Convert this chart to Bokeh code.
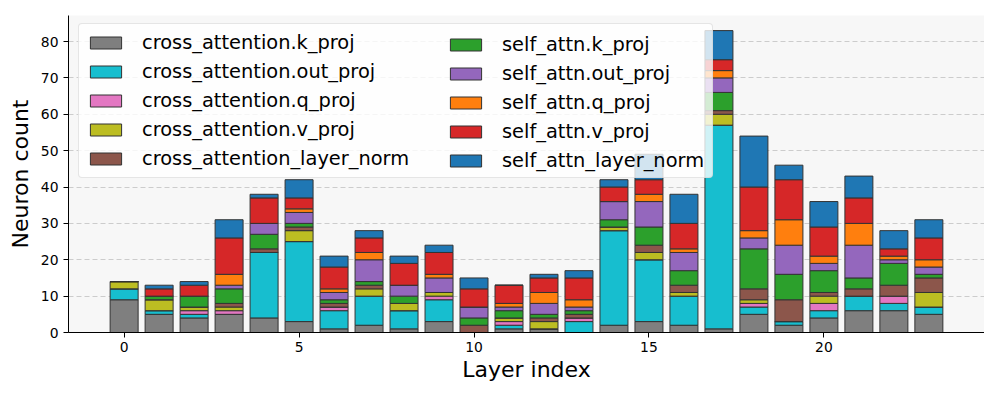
from bokeh.plotting import figure
from bokeh.models import ColumnDataSource, Range1d, Legend, LegendItem, SingleIntervalTicker
from bokeh.embed import file_html
from bokeh.resources import INLINE

layers = list(range(24))
cross_attention_k_proj = [9, 5, 4, 5, 4, 3, 1, 2, 1, 3, 0, 1, 1, 0, 2, 3, 2, 1, 5, 2, 4, 6, 6, 5]
cross_attention_out_proj = [3, 1, 1, 0, 18, 22, 5, 8, 5, 6, 0, 1, 0, 3, 26, 17, 8, 56, 2, 1, 2, 4, 2, 2]
cross_attention_q_proj = [0, 0, 1, 1, 0, 0, 1, 0, 0, 1, 0, 1, 0, 1, 0, 0, 0, 0, 1, 0, 2, 0, 2, 0]
cross_attention_v_proj = [2, 3, 1, 1, 0, 3, 0, 2, 2, 1, 0, 1, 2, 0, 1, 2, 1, 3, 1, 0, 2, 0, 0, 4]
cross_attention_layer_norm = [0, 0, 0, 1, 1, 1, 1, 1, 0, 0, 2, 0, 1, 1, 0, 2, 2, 1, 3, 6, 1, 2, 3, 4]
self_attn_k_proj = [0, 1, 3, 4, 4, 1, 1, 1, 2, 0, 2, 2, 1, 1, 2, 5, 4, 5, 11, 7, 6, 3, 6, 1]
self_attn_out_proj = [0, 0, 0, 1, 3, 3, 2, 6, 3, 4, 3, 1, 3, 1, 5, 7, 5, 4, 3, 8, 2, 9, 1, 2]
self_attn_q_proj = [0, 0, 0, 3, 0, 1, 1, 2, 0, 1, 0, 1, 3, 2, 0, 2, 1, 2, 2, 7, 2, 6, 1, 2]
self_attn_v_proj = [0, 2, 3, 10, 7, 3, 6, 4, 6, 6, 5, 5, 4, 6, 4, 4, 7, 3, 12, 11, 8, 7, 2, 6]
self_attn_layer_norm = [0, 1, 1, 5, 1, 5, 3, 2, 2, 2, 3, 0, 1, 2, 2, 7, 8, 8, 14, 4, 7, 6, 5, 5]

series_names = [
    "cross_attention.k_proj", "cross_attention.out_proj", "cross_attention.q_proj",
    "cross_attention.v_proj", "cross_attention_layer_norm",
    "self_attn.k_proj", "self_attn.out_proj", "self_attn.q_proj",
    "self_attn.v_proj", "self_attn_layer_norm",
]
series_values = [
    cross_attention_k_proj, cross_attention_out_proj, cross_attention_q_proj,
    cross_attention_v_proj, cross_attention_layer_norm,
    self_attn_k_proj, self_attn_out_proj, self_attn_q_proj,
    self_attn_v_proj, self_attn_layer_norm,
]
colors = ["#7f7f7f", "#17becf", "#e377c2", "#bcbd22", "#8c564b",
          "#2ca02c", "#9467bd", "#ff7f0e", "#d62728", "#1f77b4"]

keys = [f"s{i}" for i in range(len(series_names))]
data = {"layer": layers}
for k, v in zip(keys, series_values):
    data[k] = v
source = ColumnDataSource(data)

totals = [sum(col) for col in zip(*series_values)]
ymax = max(totals) * 1.05
bar_w = 0.8
xpad = (len(layers) - 1 + bar_w) * 0.05

FONT = "DejaVu Sans"
W, H = 984, 384
B_LEFT, B_RIGHT, B_TOP, B_BOTTOM = 68, 0, 15, 52

p = figure(width=W, height=H, output_backend="svg", toolbar_location=None,
           x_range=Range1d(-bar_w / 2 - xpad, len(layers) - 1 + bar_w / 2 + xpad),
           y_range=Range1d(0, ymax),
           min_border_left=B_LEFT, min_border_right=B_RIGHT,
           min_border_top=B_TOP, min_border_bottom=B_BOTTOM,
           background_fill_color="#f7f7f7", border_fill_color="white")
p.outline_line_color = None

renderers = p.vbar_stack(keys, x="layer", width=bar_w, source=source,
                         fill_color=colors, line_color="#333333", line_width=1)

items = [LegendItem(label=n, renderers=[r]) for n, r in zip(series_names, renderers)]

frame_h = H - B_TOP - B_BOTTOM
legend_h = 155
leg_y = frame_h - 8 - legend_h

common = dict(padding=7, spacing=6, glyph_width=39, glyph_height=15, label_standoff=17,
              label_height=20, label_text_font=FONT, label_text_font_size="19.4px",
              label_text_color="black", margin=0)

legend_a = Legend(items=items[:5], location=(10, leg_y), label_width=563,
                  border_line_color="#cccccc", border_line_width=1, border_radius=4,
                  background_fill_color="white", background_fill_alpha=0.8, **common)
legend_b = Legend(items=items[5:], location=(378, leg_y + 6),
                  border_line_color=None, background_fill_alpha=0, **common)
p.add_layout(legend_a)
p.add_layout(legend_b)

p.xgrid.visible = False
p.ygrid.grid_line_color = "#cccccc"
p.ygrid.grid_line_dash = "5 3"
p.ygrid.grid_line_width = 1

p.xaxis.ticker = SingleIntervalTicker(interval=5)
p.yaxis.ticker = SingleIntervalTicker(interval=10)

for ax in (p.xaxis, p.yaxis):
    ax.axis_line_color = "black"
    ax.axis_line_width = 1
    ax.major_tick_line_color = "black"
    ax.major_tick_out = 5
    ax.major_tick_in = 0
    ax.minor_tick_line_color = None
    ax.major_label_text_font = FONT
    ax.major_label_text_font_size = "13.9px"
    ax.major_label_text_color = "black"
    ax.axis_label_text_font = FONT
    ax.axis_label_text_font_size = "22px"
    ax.axis_label_text_font_style = "normal"
    ax.axis_label_text_color = "black"

p.xaxis.major_label_standoff = 4
p.xaxis.axis_label_standoff = 2
p.yaxis.major_label_standoff = 5
p.yaxis.axis_label_standoff = 5

p.xaxis.axis_label = "Layer index"
p.yaxis.axis_label = "Neuron count"

open("out.html", "w").write(file_html(p, INLINE))
